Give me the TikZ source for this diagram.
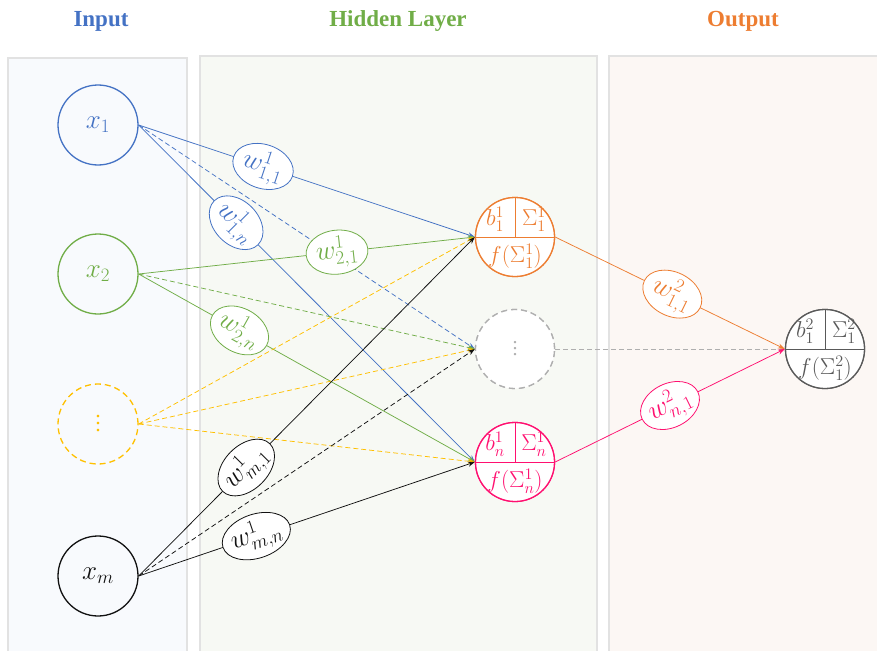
\RequirePackage{fix-cm}
\documentclass[tikz,border=0pt]{standalone}
\usepackage[no-math]{fontspec}
\setmainfont{Liberation Serif}
\usetikzlibrary{shapes.geometric,arrows.meta}
\definecolor{cblue}{HTML}{4472C4}
\definecolor{cgreen}{HTML}{70AD47}
\definecolor{cyellow}{HTML}{FFC000}
\definecolor{corange}{HTML}{ED7D31}
\definecolor{cpink}{HTML}{FF1070}
\definecolor{cgray}{HTML}{AFAFAF}
\definecolor{cdark}{HTML}{595959}
\definecolor{cblack}{HTML}{111111}
\definecolor{pinput}{HTML}{F8FAFD}
\definecolor{phidden}{HTML}{F7F9F4}
\definecolor{poutput}{HTML}{FCF7F4}
\definecolor{pborder}{HTML}{E2E2E2}
\newcommand\myvdots[1]{\vbox{\baselineskip#1\lineskiplimit0pt\hbox{.}\hbox{.}\hbox{.}}}
\tikzset{
  panel/.style={draw=pborder, line width=1.3pt},
  title/.style={font=\fontsize{23}{27}\selectfont\bfseries, text=#1},
  inp/.style={circle, draw=#1, line width=1.3pt, minimum size=80pt, inner sep=0pt, text=#1, font=\fontsize{27}{30}\selectfont},
  hid/.style={circle, draw=#1, line width=1.3pt, minimum size=79pt, inner sep=0pt, fill=white},
  inner/.style={text=#1, inner sep=0pt, font=\fontsize{23}{26}\selectfont},
  lab/.style={ellipse, draw=#1, fill=white, text=#1, line width=0.8pt, minimum width=62pt, minimum height=44pt, inner sep=-1pt, font=\fontsize{27}{30}\selectfont, sloped},
  edge/.style={draw=#1, line width=0.75pt, -{Stealth[length=7pt,width=5pt]}},
  dedge/.style={edge=#1, dash pattern=on 5pt off 3pt},
}
\begin{document}
\begin{tikzpicture}[x=1pt,y=-1pt]
\useasboundingbox (0,0) rectangle (877,650);
\clip (0,0) rectangle (877,650);
% panels
\path[panel, fill=pinput] (8,58) rectangle (187,665);
\path[panel, fill=phidden] (200,56) rectangle (597,665);
\path[panel, fill=poutput] (609,56) rectangle (890,665);
% titles
\node[title=cblue] (tin) at (101,21) {Input};
\node[title=cgreen] (thid) at (398,21) {Hidden Layer};
\node[title=corange] (tout) at (743,21) {Output};
% input nodes
\node[inp=cblue] (i1) at (98,125) {$x_1$};
\node[inp=cgreen] (i2) at (98,274) {$x_2$};
\node[inp=cyellow, dash pattern=on 6pt off 4pt, font=\fontsize{22}{24}\selectfont] (id) at (98,424) {\myvdots{7pt}};
\node[inp=cblack] (im) at (98,576) {$x_m$};
% hidden nodes (shapes, for anchors)
\node[hid=corange] (h1) at (515,237) {};
\node[hid=cgray, dash pattern=on 6pt off 4pt] (hd) at (515,349) {};
\node[hid=cpink] (hn) at (515,462) {};
\node[hid=cdark] (o) at (825,349) {};
% edges
\draw[edge=cblue] (i1.east) -- (h1.west);
\draw[dedge=cblue] (i1.east) -- (hd.west);
\draw[edge=cblue] (i1.east) -- (hn.west);
\draw[edge=cgreen] (i2.east) -- (h1.west);
\draw[dedge=cgreen] (i2.east) -- (hd.west);
\draw[edge=cgreen] (i2.east) -- (hn.west);
\draw[dedge=cyellow] (id.east) -- (h1.west);
\draw[dedge=cyellow] (id.east) -- (hd.west);
\draw[dedge=cyellow] (id.east) -- (hn.west);
\draw[edge=cblack] (im.east) -- (h1.west);
\draw[dedge=cblack] (im.east) -- (hd.west);
\draw[edge=cblack] (im.east) -- (hn.west);
\draw[edge=corange] (h1.east) -- (o.west);
\draw[dedge=cgray, -] (hd.east) -- (o.west);
\draw[edge=cpink] (hn.east) -- (o.west);
% weight labels
\path (i1.east) -- node[lab=cblue, pos=0.37] (w11) {$w^1_{1,1}$} (h1.west);
\path (i1.east) -- node[lab=cblue, pos=0.29] (w1n) {$w^1_{1,n}$} (hn.west);
\path (i2.east) -- node[lab=cgreen, pos=0.59] (w21) {$w^1_{2,1}$} (h1.west);
\path (i2.east) -- node[lab=cgreen, pos=0.30] (w2n) {$w^1_{2,n}$} (hn.west);
\path (im.east) -- node[lab=cblack, pos=0.32] (wm1) {$w^1_{m,1}$} (h1.west);
\path (im.east) -- node[lab=cblack, pos=0.35] (wmn) {$w^1_{m,n}$} (hn.west);
\path (h1.east) -- node[lab=corange, pos=0.51] (v11) {$w^2_{1,1}$} (o.west);
\path (hn.east) -- node[lab=cpink, pos=0.50] (vn1) {$w^2_{n,1}$} (o.west);
% hidden neurons redrawn on top
\node[hid=corange] (h1c) at (h1) {};
\draw[corange, line width=1pt] (h1c.west) -- (h1c.east) (h1c.center) -- (h1c.north);
\node[inner=corange] (h1b) at (495,219) {$b^1_1$};
\node[inner=corange] (h1s) at (534,219) {$\Sigma^1_1$};
\node[inner=corange] (h1f) at (515,256) {$f(\Sigma^1_1)$};
\node[hid=cgray, dash pattern=on 6pt off 4pt] (hdc) at (hd) {};
\node[inner=cgray, font=\fontsize{20}{22}\selectfont] (hdt) at (hd) {\myvdots{6pt}};
\node[hid=cpink] (hnc) at (hn) {};
\draw[cpink, line width=1pt] (hnc.west) -- (hnc.east) (hnc.center) -- (hnc.north);
\node[inner=cpink] (hnb) at (495,444) {$b^1_n$};
\node[inner=cpink] (hns) at (534,444) {$\Sigma^1_n$};
\node[inner=cpink] (hnf) at (515,481) {$f(\Sigma^1_n)$};
\node[hid=cdark] (oc) at (o) {};
\draw[cdark, line width=1pt] (oc.west) -- (oc.east) (oc.center) -- (oc.north);
\node[inner=cdark] (ob) at (805,331) {$b^2_1$};
\node[inner=cdark] (os) at (844,331) {$\Sigma^2_1$};
\node[inner=cdark] (of) at (825,368) {$f(\Sigma^2_1)$};
\end{tikzpicture}
\end{document}
